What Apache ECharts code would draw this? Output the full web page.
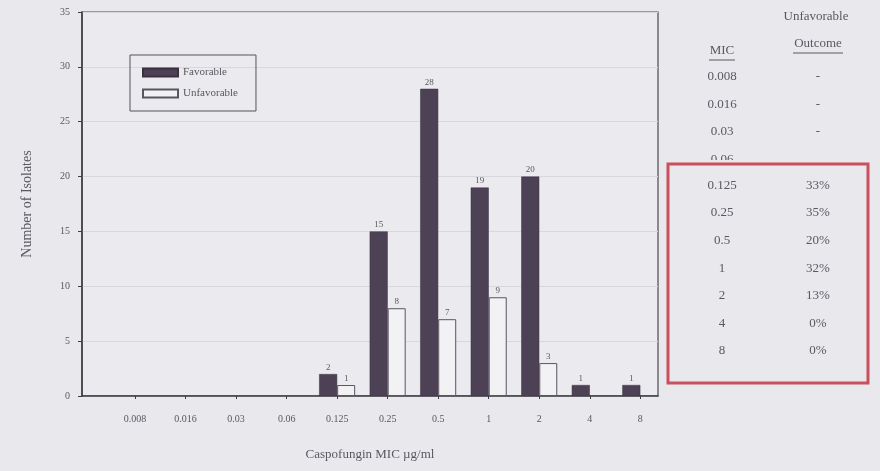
<!DOCTYPE html>
<html><head><meta charset="utf-8">
<script src="https://cdn.jsdelivr.net/npm/echarts@6/dist/echarts.min.js"></script>
<style>html,body{margin:0;padding:0;background:#e9e8ec;}#c{width:880px;height:471px;}</style>
</head><body><div id="c"></div>
<script>
const categories = ['0.008','0.016','0.03','0.06','0.125','0.25','0.5','1','2','4','8'];
const favorable   = [0,0,0,0,2,15,28,19,20,1,1];
const unfavorable = [0,0,0,0,1,8,7,9,3,0,0];
const yTicks = [0,5,10,15,20,25,30,35];
const tableMic = ['0.008','0.016','0.03','0.06','0.125','0.25','0.5','1','2','4','8'];
const tableOutcome = ['-','-','-','','33%','35%','20%','32%','13%','0%','0%'];

const chart = echarts.init(document.getElementById('c'));
const serif = 'Liberation Serif';
const txt = '#5a5860';
const idx = categories.map((c,i)=>i);
const F = '13px "Liberation Serif"';

const graphics = [];
graphics.push({type:'text', x: 816, y: 17, style:{text:'Unfavorable', font:F, fill:txt, align:'center', verticalAlign:'middle'}});
graphics.push({type:'text', x: 818, y: 44, style:{text:'Outcome', font:F, fill:txt, align:'center', verticalAlign:'middle'}});
graphics.push({type:'line', shape:{x1:793,y1:53,x2:843,y2:53}, style:{stroke:txt, lineWidth:1}});
graphics.push({type:'text', x: 722, y: 51, style:{text:'MIC', font:F, fill:txt, align:'center', verticalAlign:'middle'}});
graphics.push({type:'line', shape:{x1:709,y1:60,x2:735,y2:60}, style:{stroke:txt, lineWidth:1}});
tableMic.forEach((m,i)=>{
  const y = (i < 4 ? 77 + i*27.5 : 75 + i*27.6);
  graphics.push({type:'text', x: 722, y: y, z:11, style:{text:m, font:F, fill:txt, align:'center', verticalAlign:'middle'}});
  if (tableOutcome[i]) graphics.push({type:'text', x: 818, y: y, z:11, style:{text:tableOutcome[i], font:F, fill:txt, align:'center', verticalAlign:'middle'}});
});
graphics.push({type:'rect', shape:{x:668, y:164, width:200, height:219}, style:{fill:'rgba(0,0,0,0)', stroke:'#c9505e', lineWidth:3}, z:12, silent:true});
// partially hide the 0.06 row under the box top, as in the photo
graphics.push({type:'rect', shape:{x:700, y:160, width:46, height:10}, style:{fill:'#e9e8ec'}, z:11.5, silent:true});

const lbl = {show:true, position:'top', distance:2, fontFamily:serif, fontSize:9, color:txt,
  formatter: p => String(p.value[1])};
const pts = arr => arr.map((v,i)=> v ? [i,v] : [i,null]);

chart.setOption({
  backgroundColor:'#e9e8ec',
  animation:false,
  textStyle:{fontFamily:serif},
  grid:{left:82, top:12, right:222, bottom:75, show:true, borderColor:'#4a4850', borderWidth:1.2, backgroundColor:'#ebeaee'},
  legend:{
    left:130, top:55, orient:'vertical', itemWidth:35, itemHeight:8, itemGap:10, icon:'rect',
    padding:[12,18,12,12], borderColor:'#55535a', borderWidth:1,
    textStyle:{fontFamily:serif, fontSize:11, color:txt, width:86},
    data:['Favorable','Unfavorable']
  },
  xAxis:{
    type:'value', min:-1.05, max:10.35,
    name:'Caspofungin MIC µg/ml', nameLocation:'middle', nameGap:52,
    nameTextStyle:{fontFamily:serif, fontSize:13, color:txt},
    axisLine:{show:true, onZero:false, lineStyle:{color:'#3d3b42', width:1.5}},
    axisTick:{show:true, customValues:idx, length:3, lineStyle:{color:'#3d3b42'}},
    axisLabel:{customValues:idx, formatter:v=>categories[v], fontFamily:serif, fontSize:10, color:txt, margin:18},
    splitLine:{show:false}
  },
  yAxis:{
    type:'value', min:0, max:35, interval:5,
    name:'Number of Isolates', nameLocation:'middle', nameGap:48,
    nameTextStyle:{fontFamily:serif, fontSize:14, color:txt},
    axisLine:{show:true, onZero:false, lineStyle:{color:'#3d3b42', width:1.5}},
    axisTick:{show:true, length:4, lineStyle:{color:'#3d3b42'}},
    axisLabel:{fontFamily:serif, fontSize:10, color:txt, margin:12},
    splitLine:{show:true, lineStyle:{color:'#d8d7dc', width:1}}
  },
  series:[
    {name:'Favorable', type:'bar', barWidth:18, barGap:'0%',
     data: pts(favorable),
     itemStyle:{color:'#4d4255', borderColor:'#3a3040', borderWidth:0.5}, label:lbl},
    {name:'Unfavorable', type:'bar', barWidth:18, barGap:'0%',
     data: pts(unfavorable),
     itemStyle:{color:'#f2f1f4', borderColor:'#5a5560', borderWidth:1}, label:lbl}
  ],
  graphic: graphics
});
</script></body></html>
